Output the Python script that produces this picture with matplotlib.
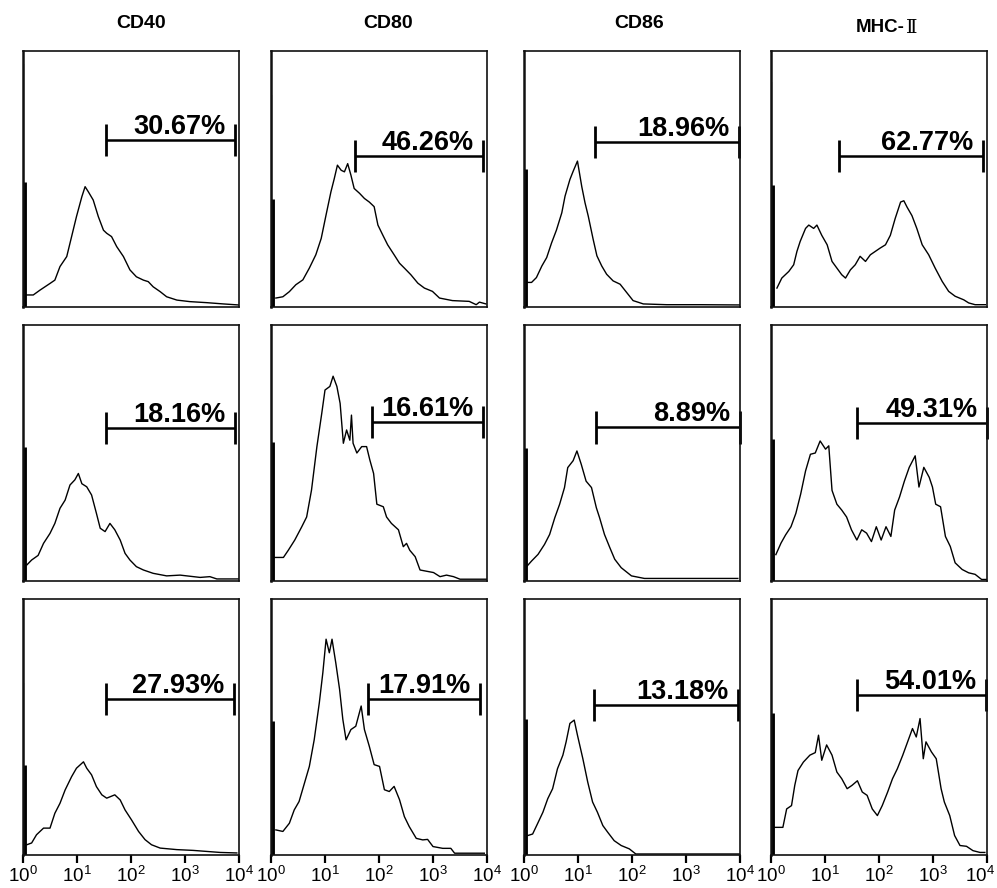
import numpy as np
import matplotlib
matplotlib.use("Agg")
import matplotlib.pyplot as plt
from matplotlib.ticker import LogLocator, NullFormatter, FixedLocator, FixedFormatter
from matplotlib.transforms import ScaledTranslation

plt.rcParams['font.family'] = ['Liberation Sans', 'DejaVu Sans']
plt.rcParams['mathtext.fontset'] = 'custom'
plt.rcParams['mathtext.rm'] = 'Liberation Sans'

markers = ["CD40", "CD80", "CD86", "MHC-"]

pct = [["30.67%", "46.26%", "18.96%", "62.77%"],
       ["18.16%", "16.61%", "8.89%", "49.31%"],
       ["27.93%", "17.91%", "13.18%", "54.01%"]]

# gate limits (fluorescence channel) and gate height (relative count)
gate_lo = [[34, 36, 21, 18], [35, 74, 22, 39], [35, 63, 20, 39]]
gate_hi = [[8500, 8500, 9550, 8500], [8500, 8500, 10000, 10000], [8100, 7400, 9100, 9550]]
gate_y = [[0.652, 0.59, 0.645, 0.59], [0.598, 0.621, 0.60, 0.617], [0.609, 0.609, 0.586, 0.625]]

# first channel pile-up (relative count)
spike_thick = [[0.49, 0.42, 0.54, 0.476], [0.525, 0.544, 0.52, 0.553], [0.35, 0.523, 0.533, 0.553]]
spike_thin = [[0.95, 0.83, 0, 0.88], [0, 0, 0, 0], [0.67, 0, 0, 0]]

# histogram outlines: (log10 channel, relative count)
cd40_a = [(0.068, 0.047), (0.19, 0.047), (0.315, 0.066), (0.50, 0.092), (0.59, 0.105), (0.685, 0.158),
          (0.81, 0.197), (0.90, 0.275), (0.99, 0.353), (1.09, 0.431), (1.15, 0.47), (1.21, 0.45),
          (1.30, 0.418), (1.395, 0.353), (1.49, 0.30), (1.55, 0.288), (1.64, 0.275), (1.735, 0.236),
          (1.86, 0.197), (1.98, 0.145), (2.10, 0.118), (2.23, 0.105), (2.32, 0.099), (2.41, 0.079),
          (2.54, 0.06), (2.66, 0.04), (2.85, 0.027), (3.09, 0.021), (3.40, 0.017), (3.71, 0.012), (3.99, 0.008)]
cd80_a = [(0.09, 0.035), (0.22, 0.04), (0.34, 0.06), (0.46, 0.087), (0.59, 0.106), (0.71, 0.152),
          (0.83, 0.204), (0.93, 0.268), (1.02, 0.36), (1.11, 0.45), (1.17, 0.50), (1.23, 0.554),
          (1.30, 0.534), (1.36, 0.528), (1.42, 0.56), (1.48, 0.515), (1.54, 0.463), (1.64, 0.444),
          (1.73, 0.424), (1.82, 0.41), (1.91, 0.392), (1.98, 0.32), (2.07, 0.281), (2.16, 0.243),
          (2.28, 0.204), (2.38, 0.171), (2.47, 0.152), (2.59, 0.126), (2.72, 0.093), (2.84, 0.074),
          (2.99, 0.061), (3.12, 0.035), (3.36, 0.025), (3.67, 0.022), (3.80, 0.009), (3.86, 0.019), (3.98, 0.012)]
cd86_a = [(0.05, 0.096), (0.14, 0.096), (0.23, 0.115), (0.33, 0.16), (0.42, 0.193), (0.51, 0.25),
          (0.60, 0.30), (0.70, 0.368), (0.76, 0.433), (0.85, 0.498), (0.91, 0.53), (0.99, 0.57),
          (1.07, 0.47), (1.13, 0.407), (1.19, 0.355), (1.28, 0.265), (1.35, 0.20), (1.44, 0.16),
          (1.53, 0.128), (1.65, 0.102), (1.78, 0.089), (1.90, 0.057), (2.02, 0.025), (2.21, 0.012),
          (2.64, 0.009), (3.26, 0.009), (4.0, 0.008)]
mhc_a = [(0.11, 0.074), (0.20, 0.113), (0.33, 0.139), (0.42, 0.165), (0.48, 0.217), (0.54, 0.256),
         (0.64, 0.307), (0.70, 0.32), (0.79, 0.307), (0.85, 0.32), (0.94, 0.28), (1.04, 0.243),
         (1.13, 0.178), (1.22, 0.152), (1.31, 0.126), (1.38, 0.113), (1.47, 0.145), (1.56, 0.165),
         (1.65, 0.198), (1.75, 0.178), (1.84, 0.204), (1.93, 0.217), (2.02, 0.23), (2.12, 0.243),
         (2.21, 0.28), (2.30, 0.346), (2.40, 0.41), (2.46, 0.415), (2.52, 0.39), (2.61, 0.357),
         (2.70, 0.307), (2.80, 0.243), (2.92, 0.204), (3.04, 0.152), (3.17, 0.10), (3.29, 0.061),
         (3.41, 0.042), (3.57, 0.028), (3.66, 0.016), (3.78, 0.009), (3.97, 0.009)]

cd40_b = [(0.07, 0.0625), (0.16, 0.082), (0.28, 0.10), (0.38, 0.147), (0.50, 0.186), (0.59, 0.225),
          (0.685, 0.284), (0.78, 0.316), (0.87, 0.375), (0.96, 0.395), (1.025, 0.42), (1.09, 0.38),
          (1.18, 0.368), (1.27, 0.336), (1.36, 0.264), (1.43, 0.206), (1.52, 0.193), (1.61, 0.225),
          (1.70, 0.20), (1.80, 0.16), (1.89, 0.108), (1.98, 0.082), (2.10, 0.056), (2.23, 0.043),
          (2.41, 0.03), (2.66, 0.02), (2.91, 0.023), (3.28, 0.014), (3.46, 0.017), (3.59, 0.008), (3.99, 0.008)]
cd80_b = [(0.07, 0.092), (0.23, 0.092), (0.32, 0.12), (0.44, 0.16), (0.57, 0.212), (0.66, 0.25),
          (0.75, 0.355), (0.85, 0.525), (0.94, 0.655), (1.00, 0.746), (1.09, 0.76), (1.15, 0.80),
          (1.22, 0.76), (1.28, 0.694), (1.34, 0.538), (1.40, 0.59), (1.46, 0.55), (1.49, 0.648),
          (1.52, 0.538), (1.59, 0.50), (1.68, 0.525), (1.77, 0.525), (1.83, 0.473), (1.90, 0.42),
          (1.96, 0.30), (2.08, 0.29), (2.14, 0.25), (2.23, 0.225), (2.36, 0.20), (2.45, 0.134),
          (2.51, 0.147), (2.57, 0.12), (2.67, 0.095), (2.76, 0.043), (3.01, 0.033), (3.13, 0.017),
          (3.25, 0.023), (3.38, 0.017), (3.50, 0.007), (3.99, 0.007)]
cd86_b = [(0.06, 0.059), (0.14, 0.078), (0.26, 0.104), (0.38, 0.143), (0.475, 0.182), (0.57, 0.247),
          (0.66, 0.30), (0.75, 0.365), (0.81, 0.443), (0.91, 0.47), (0.98, 0.508), (1.06, 0.456),
          (1.15, 0.39), (1.25, 0.365), (1.34, 0.286), (1.40, 0.247), (1.49, 0.182), (1.59, 0.13),
          (1.68, 0.085), (1.80, 0.052), (1.99, 0.02), (2.23, 0.01), (3.96, 0.01)]
mhc_b = [(0.09, 0.103), (0.185, 0.148), (0.27, 0.18), (0.37, 0.212), (0.46, 0.264), (0.55, 0.34),
         (0.64, 0.43), (0.73, 0.495), (0.82, 0.50), (0.91, 0.547), (1.01, 0.515), (1.07, 0.528),
         (1.13, 0.354), (1.22, 0.30), (1.31, 0.277), (1.40, 0.25), (1.49, 0.20), (1.59, 0.16),
         (1.68, 0.20), (1.77, 0.187), (1.86, 0.154), (1.95, 0.212), (2.04, 0.16), (2.13, 0.212),
         (2.22, 0.174), (2.29, 0.277), (2.38, 0.328), (2.47, 0.39), (2.56, 0.444), (2.67, 0.489),
         (2.74, 0.367), (2.83, 0.444), (2.93, 0.405), (2.99, 0.367), (3.05, 0.30), (3.14, 0.29),
         (3.23, 0.174), (3.32, 0.135), (3.41, 0.071), (3.54, 0.045), (3.66, 0.032), (3.78, 0.026),
         (3.90, 0.006), (3.99, 0.006)]

cd40_c = [(0.07, 0.04), (0.16, 0.047), (0.25, 0.079), (0.38, 0.105), (0.50, 0.105), (0.59, 0.163),
          (0.685, 0.202), (0.78, 0.254), (0.90, 0.306), (0.99, 0.339), (1.12, 0.364), (1.18, 0.339),
          (1.27, 0.313), (1.36, 0.267), (1.46, 0.235), (1.55, 0.222), (1.70, 0.235), (1.80, 0.215),
          (1.89, 0.176), (2.01, 0.137), (2.14, 0.092), (2.26, 0.06), (2.38, 0.04), (2.54, 0.027),
          (2.85, 0.021), (3.15, 0.018), (3.40, 0.014), (3.65, 0.01), (3.96, 0.008)]
cd80_c = [(0.09, 0.098), (0.22, 0.092), (0.34, 0.124), (0.43, 0.176), (0.52, 0.209), (0.62, 0.281),
          (0.71, 0.346), (0.80, 0.45), (0.895, 0.595), (0.96, 0.712), (1.02, 0.843), (1.08, 0.79),
          (1.13, 0.843), (1.20, 0.75), (1.27, 0.647), (1.33, 0.53), (1.39, 0.45), (1.48, 0.49),
          (1.57, 0.503), (1.67, 0.582), (1.73, 0.49), (1.82, 0.425), (1.91, 0.353), (2.01, 0.346),
          (2.10, 0.255), (2.19, 0.248), (2.28, 0.268), (2.38, 0.216), (2.47, 0.15), (2.56, 0.111),
          (2.69, 0.065), (2.81, 0.059), (2.90, 0.061), (3.0, 0.033), (3.18, 0.026), (3.33, 0.026),
          (3.40, 0.007), (3.95, 0.007)]
cd86_c = [(0.07, 0.076), (0.16, 0.082), (0.25, 0.122), (0.35, 0.167), (0.44, 0.22), (0.53, 0.259),
          (0.62, 0.337), (0.72, 0.39), (0.78, 0.442), (0.85, 0.514), (0.93, 0.527), (0.99, 0.468),
          (1.09, 0.376), (1.18, 0.285), (1.27, 0.207), (1.36, 0.167), (1.46, 0.115), (1.55, 0.089),
          (1.67, 0.056), (1.80, 0.037), (1.95, 0.024), (2.07, 0.004), (3.99, 0.004)]
mhc_c = [(0.04, 0.108), (0.22, 0.108), (0.29, 0.18), (0.38, 0.193), (0.44, 0.272), (0.50, 0.33),
         (0.60, 0.363), (0.72, 0.39), (0.82, 0.40), (0.88, 0.468), (0.94, 0.37), (1.03, 0.43),
         (1.13, 0.39), (1.22, 0.324), (1.31, 0.298), (1.41, 0.259), (1.50, 0.272), (1.60, 0.29),
         (1.69, 0.246), (1.78, 0.233), (1.875, 0.18), (1.97, 0.154), (2.06, 0.193), (2.16, 0.246),
         (2.25, 0.298), (2.34, 0.337), (2.44, 0.39), (2.53, 0.442), (2.62, 0.494), (2.69, 0.461),
         (2.76, 0.533), (2.82, 0.376), (2.87, 0.442), (2.97, 0.403), (3.06, 0.376), (3.15, 0.259),
         (3.21, 0.207), (3.31, 0.154), (3.40, 0.076), (3.50, 0.037), (3.62, 0.034), (3.74, 0.017),
         (3.87, 0.01), (3.96, 0.01)]

curves = [[cd40_a, cd80_a, cd86_a, mhc_a],
          [cd40_b, cd80_b, cd86_b, mhc_b],
          [cd40_c, cd80_c, cd86_c, mhc_c]]

W, H = 997, 888
col_left = [23, 271, 524, 771]
row_top = [51, 325, 599]
pw, ph = 216, 256

fig = plt.figure(figsize=(W / 100, H / 100), dpi=100)
fig.patch.set_facecolor('white')

for r in range(3):
    for c in range(4):
        ax = fig.add_axes([col_left[c] / W, 1 - (row_top[r] + ph) / H, pw / W, ph / H])
        ax.set_xscale('log')
        ax.set_xlim(1, 1e4)
        ax.set_ylim(0, 1)
        for s in ax.spines.values():
            s.set_linewidth(1.2)
            s.set_color('#111111')
        ax.spines['left'].set_linewidth(1.8)

        pts = np.array(curves[r][c])
        ax.plot(10 ** pts[:, 0], pts[:, 1], color='black', lw=1.0)

        # pile-up in the first channel
        ax.vlines(1.03, 0, spike_thick[r][c], color='black', lw=3.5)
        if spike_thin[r][c] > 0:
            ax.vlines(1.015, 0, spike_thin[r][c], color='black', lw=1.6)

        # gate marker
        lo, hi, gy = gate_lo[r][c], gate_hi[r][c], gate_y[r][c]
        ax.plot([lo, hi], [gy, gy], color='black', lw=1.8, solid_capstyle='butt', clip_on=False)
        ax.vlines([lo, hi], gy - 0.063, gy + 0.063, color='black', lw=2.0, clip_on=False)
        ax.annotate(pct[r][c], xy=(hi, gy), xytext=(-7, 4.5), textcoords='offset points',
                    ha='right', va='baseline', fontsize=19.5, fontweight='bold')

        ax.minorticks_off()
        if r == 2:
            ax.xaxis.set_major_locator(FixedLocator([1, 10, 100, 1000, 10000]))
            ax.xaxis.set_major_formatter(FixedFormatter(
                [r'$10^{0}$', r'$10^{1}$', r'$10^{2}$', r'$10^{3}$', r'$10^{4}$']))
            ax.xaxis.set_minor_locator(LogLocator(base=10, subs=np.arange(2, 10)))
            ax.xaxis.set_minor_formatter(NullFormatter())
            ax.tick_params(axis='x', which='major', direction='out', length=6, width=1.6,
                           labelsize=13.5, pad=1.0)
            ax.tick_params(axis='x', which='minor', direction='out', length=3.5, width=1.4)
            ax.tick_params(axis='y', left=False, labelleft=False)
            if c == 3:
                fig.canvas.draw()
                last = ax.get_xticklabels()[-1]
                last.set_transform(last.get_transform() +
                                   ScaledTranslation(-5 / 72, 0, fig.dpi_scale_trans))
        else:
            ax.tick_params(bottom=False, labelbottom=False, left=False, labelleft=False)

# column headers
fig.text(141 / W, 1 - 23 / H, "CD40", ha='center', va='center', fontsize=14, fontweight='bold')
fig.text(388 / W, 1 - 23 / H, "CD80", ha='center', va='center', fontsize=14, fontweight='bold')
fig.text(639 / W, 1 - 24 / H, "CD86", ha='center', va='center', fontsize=14, fontweight='bold')
fig.text(905 / W, 1 - 28 / H, markers[3], ha='right', va='center', fontsize=13.5, fontweight='bold')
fig.text(906 / W, 1 - 28 / H, "Ⅱ", ha='left', va='center', fontsize=14,
         family=['DejaVu Serif', 'Noto Sans CJK SC'])

fig.savefig("out.png", dpi=100, facecolor='white')
